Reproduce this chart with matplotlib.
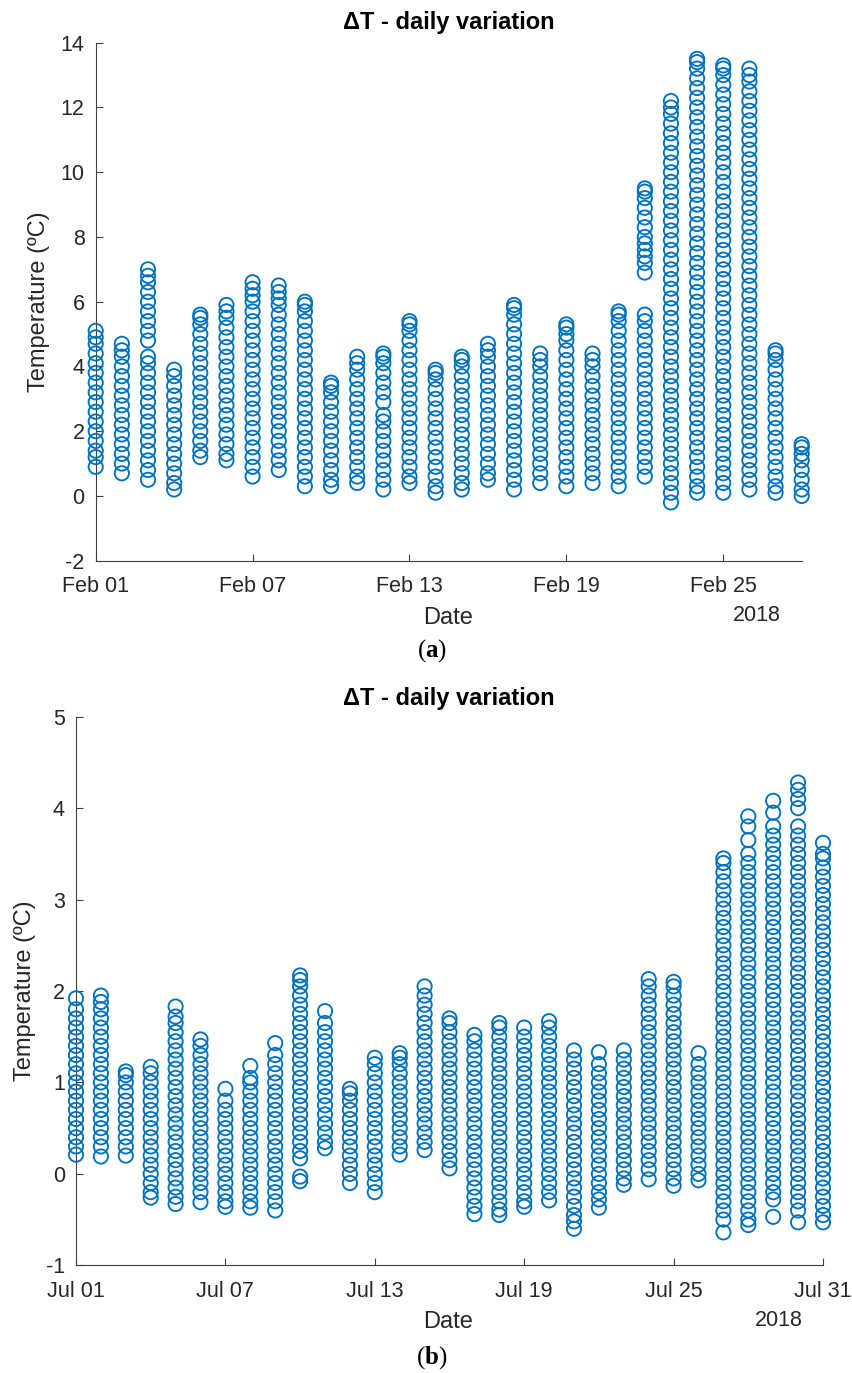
import matplotlib
matplotlib.use('Agg')
import matplotlib.pyplot as plt

plt.rcParams['font.family'] = ['Liberation Sans', 'DejaVu Sans']
plt.rcParams['mathtext.fontset'] = 'custom'
plt.rcParams['mathtext.rm'] = 'Liberation Serif'
plt.rcParams['mathtext.bf'] = 'Liberation Serif:bold'

# ---------------- data: February 2018 ----------------
feb_days = list(range(1, 29))
feb_values = [
    [0.9, 1.2, 1.4, 1.7, 2.0, 2.3, 2.6, 2.9, 3.2, 3.5, 3.8, 4.1, 4.4, 4.7, 4.9, 5.1],
    [0.7, 1.0, 1.3, 1.6, 1.9, 2.2, 2.5, 2.8, 3.1, 3.4, 3.7, 4.0, 4.3, 4.5, 4.7],
    [0.5, 0.8, 1.1, 1.4, 1.7, 2.0, 2.3, 2.6, 2.9, 3.2, 3.5, 3.8, 4.1, 4.3, 4.8, 5.1, 5.4, 5.7, 6.0, 6.3, 6.6, 6.8, 7.0],
    [0.2, 0.4, 0.7, 1.0, 1.3, 1.6, 1.9, 2.2, 2.5, 2.8, 3.1, 3.4, 3.7, 3.9],
    [1.2, 1.4, 1.7, 2.0, 2.3, 2.6, 2.9, 3.2, 3.5, 3.8, 4.1, 4.4, 4.7, 5.0, 5.3, 5.5, 5.6],
    [1.1, 1.3, 1.6, 1.9, 2.2, 2.5, 2.8, 3.1, 3.4, 3.7, 4.0, 4.3, 4.6, 4.9, 5.2, 5.5, 5.7, 5.9],
    [0.6, 0.9, 1.2, 1.5, 1.8, 2.1, 2.4, 2.7, 3.0, 3.3, 3.6, 3.9, 4.2, 4.5, 4.8, 5.1, 5.4, 5.7, 6.0, 6.2, 6.4, 6.6],
    [0.8, 1.1, 1.4, 1.7, 2.0, 2.3, 2.6, 2.9, 3.2, 3.5, 3.8, 4.1, 4.4, 4.7, 5.0, 5.3, 5.6, 5.9, 6.1, 6.3, 6.5],
    [0.3, 0.6, 0.9, 1.2, 1.5, 1.8, 2.1, 2.4, 2.7, 3.0, 3.3, 3.6, 3.9, 4.2, 4.5, 4.8, 5.1, 5.4, 5.7, 5.9, 6.0],
    [0.3, 0.5, 0.8, 1.1, 1.4, 1.7, 2.0, 2.3, 2.6, 2.9, 3.2, 3.4, 3.5],
    [0.4, 0.6, 0.9, 1.2, 1.5, 1.8, 2.1, 2.4, 2.7, 3.0, 3.3, 3.6, 3.9, 4.1, 4.3],
    [0.2, 0.5, 0.8, 1.1, 1.4, 1.7, 2.0, 2.3, 2.5, 2.9, 3.2, 3.5, 3.8, 4.1, 4.3, 4.4],
    [0.4, 0.6, 0.9, 1.2, 1.5, 1.8, 2.1, 2.4, 2.7, 3.0, 3.3, 3.6, 3.9, 4.2, 4.5, 4.8, 5.1, 5.3, 5.4],
    [0.1, 0.3, 0.6, 0.9, 1.2, 1.5, 1.8, 2.1, 2.4, 2.7, 3.0, 3.3, 3.6, 3.8, 3.9],
    [0.2, 0.4, 0.7, 1.0, 1.3, 1.6, 1.9, 2.2, 2.5, 2.8, 3.1, 3.4, 3.7, 4.0, 4.2, 4.3],
    [0.5, 0.7, 1.0, 1.3, 1.6, 1.9, 2.2, 2.5, 2.8, 3.1, 3.4, 3.7, 4.0, 4.3, 4.5, 4.7],
    [0.2, 0.5, 0.8, 1.1, 1.4, 1.7, 2.0, 2.3, 2.6, 2.9, 3.2, 3.5, 3.8, 4.1, 4.4, 4.7, 5.0, 5.3, 5.6, 5.8, 5.9],
    [0.4, 0.7, 1.0, 1.3, 1.6, 1.9, 2.2, 2.5, 2.8, 3.1, 3.4, 3.7, 4.0, 4.2, 4.4],
    [0.3, 0.6, 0.9, 1.2, 1.5, 1.8, 2.1, 2.4, 2.7, 3.0, 3.3, 3.6, 3.9, 4.2, 4.5, 4.8, 5.0, 5.2, 5.3],
    [0.4, 0.7, 1.0, 1.3, 1.6, 1.9, 2.2, 2.5, 2.8, 3.1, 3.4, 3.7, 4.0, 4.2, 4.4],
    [0.3, 0.6, 0.9, 1.2, 1.5, 1.8, 2.1, 2.4, 2.7, 3.0, 3.3, 3.6, 3.9, 4.2, 4.5, 4.8, 5.1, 5.4, 5.6, 5.7],
    [0.6, 0.9, 1.2, 1.5, 1.8, 2.1, 2.4, 2.7, 3.0, 3.3, 3.6, 3.9, 4.2, 4.5, 4.8, 5.1, 5.4, 5.6,
     6.9, 7.2, 7.4, 7.6, 7.8, 8.0, 8.3, 8.6, 8.9, 9.2, 9.4, 9.5],
    [-0.2, 0.1, 0.4, 0.7, 1.0, 1.3, 1.6, 1.9, 2.2, 2.5, 2.8, 3.1, 3.4, 3.7, 4.0, 4.3, 4.6, 4.9, 5.2, 5.5,
     5.8, 6.1, 6.4, 6.7, 7.0, 7.3, 7.6, 7.9, 8.2, 8.5, 8.8, 9.1, 9.4, 9.7, 10.0, 10.3, 10.6, 10.9, 11.2,
     11.5, 11.8, 12.0, 12.2],
    [0.1, 0.3, 0.6, 0.9, 1.2, 1.5, 1.8, 2.1, 2.4, 2.7, 3.0, 3.3, 3.6, 3.9, 4.2, 4.5, 4.8, 5.1, 5.4, 5.7,
     6.0, 6.3, 6.6, 6.9, 7.2, 7.5, 7.8, 8.1, 8.4, 8.7, 9.0, 9.3, 9.6, 9.9, 10.2, 10.5, 10.8, 11.1, 11.4,
     11.7, 12.0, 12.3, 12.6, 12.9, 13.2, 13.4, 13.5],
    [0.1, 0.4, 0.7, 1.0, 1.3, 1.6, 1.9, 2.2, 2.5, 2.8, 3.1, 3.4, 3.7, 4.0, 4.3, 4.6, 4.9, 5.2, 5.5, 5.8,
     6.1, 6.4, 6.7, 7.0, 7.3, 7.6, 7.9, 8.2, 8.5, 8.8, 9.1, 9.4, 9.7, 10.0, 10.3, 10.6, 10.9, 11.2, 11.5,
     11.8, 12.1, 12.4, 12.7, 13.0, 13.2, 13.3],
    [0.2, 0.5, 0.8, 1.1, 1.4, 1.7, 2.0, 2.3, 2.6, 2.9, 3.2, 3.5, 3.8, 4.1, 4.4, 4.7, 5.0, 5.3, 5.6, 5.9,
     6.2, 6.5, 6.8, 7.1, 7.4, 7.7, 8.0, 8.3, 8.6, 8.9, 9.2, 9.5, 9.8, 10.1, 10.4, 10.7, 11.0, 11.3, 11.6,
     11.9, 12.2, 12.5, 12.8, 13.0, 13.2],
    [0.1, 0.3, 0.6, 0.9, 1.2, 1.5, 1.8, 2.1, 2.4, 2.7, 3.0, 3.3, 3.6, 3.9, 4.2, 4.4, 4.5],
    [0.0, 0.2, 0.5, 0.8, 1.1, 1.3, 1.5, 1.6],
]
feb_ticks = [1, 7, 13, 19, 25]
feb_ticklabels = ['Feb 01', 'Feb 07', 'Feb 13', 'Feb 19', 'Feb 25']
feb_yticks = [-2, 0, 2, 4, 6, 8, 10, 12, 14]

# ---------------- data: July 2018 ----------------
jul_days = list(range(1, 32))
jul_values = [
    [0.21, 0.3, 0.4, 0.5, 0.6, 0.7, 0.8, 0.9, 1.0, 1.1, 1.2, 1.3, 1.4, 1.5, 1.6, 1.7, 1.8, 1.92],
    [0.19, 0.3, 0.4, 0.5, 0.6, 0.7, 0.8, 0.9, 1.0, 1.1, 1.2, 1.3, 1.4, 1.5, 1.6, 1.7, 1.8, 1.88, 1.95],
    [0.2, 0.3, 0.4, 0.5, 0.6, 0.7, 0.8, 0.9, 1.0, 1.08, 1.12],
    [-0.26, -0.2, -0.1, 0.0, 0.1, 0.2, 0.3, 0.4, 0.5, 0.6, 0.7, 0.8, 0.9, 1.0, 1.1, 1.17],
    [-0.33, -0.25, -0.15, -0.05, 0.05, 0.15, 0.25, 0.35, 0.45, 0.55, 0.65, 0.75, 0.85, 0.95, 1.05, 1.15,
     1.25, 1.35, 1.45, 1.55, 1.65, 1.72, 1.83],
    [-0.31, -0.2, -0.1, 0.0, 0.1, 0.2, 0.3, 0.4, 0.5, 0.6, 0.7, 0.8, 0.9, 1.0, 1.1, 1.2, 1.3, 1.4, 1.47],
    [-0.36, -0.3, -0.2, -0.1, 0.0, 0.1, 0.2, 0.3, 0.4, 0.5, 0.6, 0.7, 0.8, 0.93],
    [-0.37, -0.3, -0.2, -0.1, 0.0, 0.1, 0.2, 0.3, 0.4, 0.5, 0.6, 0.7, 0.8, 0.9, 1.0, 1.05, 1.18],
    [-0.4, -0.3, -0.2, -0.1, 0.0, 0.1, 0.2, 0.3, 0.4, 0.5, 0.6, 0.7, 0.8, 0.9, 1.0, 1.1, 1.2, 1.3, 1.43],
    [-0.08, -0.03, 0.17, 0.25, 0.35, 0.45, 0.55, 0.65, 0.75, 0.85, 0.95, 1.05, 1.15, 1.25, 1.35, 1.45,
     1.55, 1.65, 1.75, 1.85, 1.95, 2.05, 2.12, 2.17],
    [0.28, 0.35, 0.45, 0.55, 0.65, 0.75, 0.85, 0.95, 1.05, 1.15, 1.25, 1.35, 1.45, 1.55, 1.65, 1.78],
    [-0.1, 0.0, 0.1, 0.2, 0.3, 0.4, 0.5, 0.6, 0.7, 0.8, 0.88, 0.93],
    [-0.2, -0.1, 0.0, 0.1, 0.2, 0.3, 0.4, 0.5, 0.6, 0.7, 0.8, 0.9, 1.0, 1.1, 1.2, 1.27],
    [0.21, 0.3, 0.4, 0.5, 0.6, 0.7, 0.8, 0.9, 1.0, 1.1, 1.2, 1.27, 1.32],
    [0.26, 0.35, 0.45, 0.55, 0.65, 0.75, 0.85, 0.95, 1.05, 1.15, 1.25, 1.35, 1.45, 1.55, 1.65, 1.75,
     1.85, 1.95, 2.05],
    [0.06, 0.15, 0.25, 0.35, 0.45, 0.55, 0.65, 0.75, 0.85, 0.95, 1.05, 1.15, 1.25, 1.35, 1.45, 1.55,
     1.65, 1.7],
    [-0.44, -0.35, -0.25, -0.15, -0.05, 0.05, 0.15, 0.25, 0.35, 0.45, 0.55, 0.65, 0.75, 0.85, 0.95, 1.05,
     1.15, 1.25, 1.35, 1.45, 1.52],
    [-0.45, -0.39, -0.3, -0.2, -0.1, 0.0, 0.1, 0.2, 0.3, 0.4, 0.5, 0.6, 0.7, 0.8, 0.9, 1.0, 1.1, 1.2,
     1.3, 1.4, 1.5, 1.6, 1.65],
    [-0.36, -0.3, -0.2, -0.1, 0.0, 0.1, 0.2, 0.3, 0.4, 0.5, 0.6, 0.7, 0.8, 0.9, 1.0, 1.1, 1.2, 1.3,
     1.4, 1.5, 1.6],
    [-0.29, -0.2, -0.1, 0.0, 0.1, 0.2, 0.3, 0.4, 0.5, 0.6, 0.7, 0.8, 0.9, 1.0, 1.1, 1.2, 1.3, 1.4,
     1.5, 1.6, 1.67],
    [-0.6, -0.52, -0.45, -0.35, -0.25, -0.15, -0.05, 0.05, 0.15, 0.25, 0.35, 0.45, 0.55, 0.65, 0.75,
     0.85, 0.95, 1.05, 1.15, 1.25, 1.35],
    [-0.37, -0.28, -0.2, -0.1, 0.0, 0.1, 0.2, 0.3, 0.4, 0.5, 0.6, 0.7, 0.8, 0.9, 1.0, 1.1, 1.2, 1.33],
    [-0.12, -0.05, 0.05, 0.15, 0.25, 0.35, 0.45, 0.55, 0.65, 0.75, 0.85, 0.95, 1.05, 1.15, 1.25, 1.35],
    [-0.06, 0.05, 0.15, 0.25, 0.35, 0.45, 0.55, 0.65, 0.75, 0.85, 0.95, 1.05, 1.15, 1.25, 1.35, 1.45,
     1.55, 1.65, 1.75, 1.85, 1.95, 2.05, 2.13],
    [-0.13, -0.05, 0.05, 0.15, 0.25, 0.35, 0.45, 0.55, 0.65, 0.75, 0.85, 0.95, 1.05, 1.15, 1.25, 1.35,
     1.45, 1.55, 1.65, 1.75, 1.85, 1.95, 2.05, 2.1],
    [-0.07, 0.0, 0.1, 0.2, 0.3, 0.4, 0.5, 0.6, 0.7, 0.8, 0.9, 1.0, 1.1, 1.2, 1.32],
    [-0.64, -0.5, -0.4, -0.3, -0.2, -0.1, 0.0, 0.1, 0.2, 0.3, 0.4, 0.5, 0.6, 0.7, 0.8, 0.9, 1.0, 1.1,
     1.2, 1.3, 1.4, 1.5, 1.6, 1.7, 1.8, 1.9, 2.0, 2.1, 2.2, 2.3, 2.4, 2.5, 2.6, 2.7, 2.8, 2.9, 3.0,
     3.1, 3.2, 3.3, 3.4, 3.45],
    [-0.56, -0.5, -0.4, -0.3, -0.2, -0.1, 0.0, 0.1, 0.2, 0.3, 0.4, 0.5, 0.6, 0.7, 0.8, 0.9, 1.0, 1.1,
     1.2, 1.3, 1.4, 1.5, 1.6, 1.7, 1.8, 1.9, 2.0, 2.1, 2.2, 2.3, 2.4, 2.5, 2.6, 2.7, 2.8, 2.9, 3.0,
     3.1, 3.2, 3.3, 3.4, 3.5, 3.65, 3.8, 3.91],
    [-0.47, -0.28, -0.2, -0.1, 0.0, 0.1, 0.2, 0.3, 0.4, 0.5, 0.6, 0.7, 0.8, 0.9, 1.0, 1.1, 1.2, 1.3,
     1.4, 1.5, 1.6, 1.7, 1.8, 1.9, 2.0, 2.1, 2.2, 2.3, 2.4, 2.5, 2.6, 2.7, 2.8, 2.9, 3.0, 3.1, 3.2,
     3.3, 3.4, 3.5, 3.6, 3.7, 3.8, 3.95, 4.08],
    [-0.53, -0.4, -0.3, -0.2, -0.1, 0.0, 0.1, 0.2, 0.3, 0.4, 0.5, 0.6, 0.7, 0.8, 0.9, 1.0, 1.1, 1.2,
     1.3, 1.4, 1.5, 1.6, 1.7, 1.8, 1.9, 2.0, 2.1, 2.2, 2.3, 2.4, 2.5, 2.6, 2.7, 2.8, 2.9, 3.0, 3.1,
     3.2, 3.3, 3.4, 3.5, 3.6, 3.7, 3.8, 4.0, 4.1, 4.2, 4.28],
    [-0.53, -0.45, -0.35, -0.25, -0.15, -0.05, 0.05, 0.15, 0.25, 0.35, 0.45, 0.55, 0.65, 0.75, 0.85,
     0.95, 1.05, 1.15, 1.25, 1.35, 1.45, 1.55, 1.65, 1.75, 1.85, 1.95, 2.05, 2.15, 2.25, 2.35, 2.45,
     2.55, 2.65, 2.75, 2.85, 2.95, 3.05, 3.15, 3.25, 3.35, 3.45, 3.5, 3.62],
]
jul_ticks = [1, 7, 13, 19, 25, 31]
jul_ticklabels = ['Jul 01', 'Jul 07', 'Jul 13', 'Jul 19', 'Jul 25', 'Jul 31']
jul_yticks = [-1, 0, 1, 2, 3, 4, 5]

# ---------------- styling ----------------
W, H = 853, 1373
BLUE = '#0072BD'
AXC = '#404040'
TXT = '#262626'

fig = plt.figure(figsize=(W / 100, H / 100), dpi=100)


def fx(px):
    return px / W


def fy(py):
    return 1 - py / H


def panel(rect, days, values, xticks, xticklabels, yticks, xlim, ylim):
    ax = fig.add_axes(rect)
    xs, ys = [], []
    for d, vals in zip(days, values):
        xs.extend([d] * len(vals))
        ys.extend(vals)
    ax.scatter(xs, ys, s=105, facecolors='none', edgecolors=BLUE,
               linewidths=1.35, clip_on=False, zorder=3)
    ax.set_xlim(*xlim)
    ax.set_ylim(*ylim)
    ax.set_xticks(xticks)
    ax.set_xticklabels(xticklabels)
    ax.set_yticks(yticks)
    ax.set_yticklabels([str(t) for t in yticks])
    for s in ['top', 'right']:
        ax.spines[s].set_visible(False)
    for s in ['left', 'bottom']:
        ax.spines[s].set_color(AXC)
        ax.spines[s].set_linewidth(0.8)
    ax.tick_params(direction='in', length=5, width=0.8, color=AXC,
                   labelsize=15.5, labelcolor=TXT)
    ax.tick_params(axis='x', pad=11)
    ax.tick_params(axis='y', pad=8)
    return ax


# Panel (a)
ax1 = panel([fx(95.7), fy(560.7), fx(801.7 - 95.7), (560.7 - 42.7) / H],
            feb_days, feb_values, feb_ticks, feb_ticklabels, feb_yticks,
            (1, 28), (-2, 14))
fig.text(fx(449), fy(23), 'ΔT - daily variation', ha='center', va='center',
         fontsize=17, fontweight='bold', color='black')
fig.text(fx(448), fy(618), 'Date', ha='center', va='center', fontsize=17, color=TXT)
fig.text(fx(757), fy(616), '2018', ha='center', va='center', fontsize=15.5, color=TXT)
fig.text(fx(39), fy(301.7), 'Temperature (ºC)', ha='center', va='center',
         rotation=90, fontsize=17, color=TXT)
fig.text(fx(432), fy(651), r'($\mathbf{a}$)', ha='center', va='center',
         fontsize=18, family='Liberation Serif', color='black')

# Panel (b)
ax2 = panel([fx(76), fy(1265.3), fx(823 - 76), (1265.3 - 716.7) / H],
            jul_days, jul_values, jul_ticks, jul_ticklabels, jul_yticks,
            (1, 31), (-1, 5))
fig.text(fx(449), fy(698), 'ΔT - daily variation', ha='center', va='center',
         fontsize=17, fontweight='bold', color='black')
fig.text(fx(448), fy(1322), 'Date', ha='center', va='center', fontsize=17, color=TXT)
fig.text(fx(779), fy(1321), '2018', ha='center', va='center', fontsize=15.5, color=TXT)
fig.text(fx(25), fy(991), 'Temperature (ºC)', ha='center', va='center',
         rotation=90, fontsize=17, color=TXT)
fig.text(fx(432), fy(1358), r'($\mathbf{b}$)', ha='center', va='center',
         fontsize=18, family='Liberation Serif', color='black')

fig.savefig('out.png', dpi=100, facecolor='white')
